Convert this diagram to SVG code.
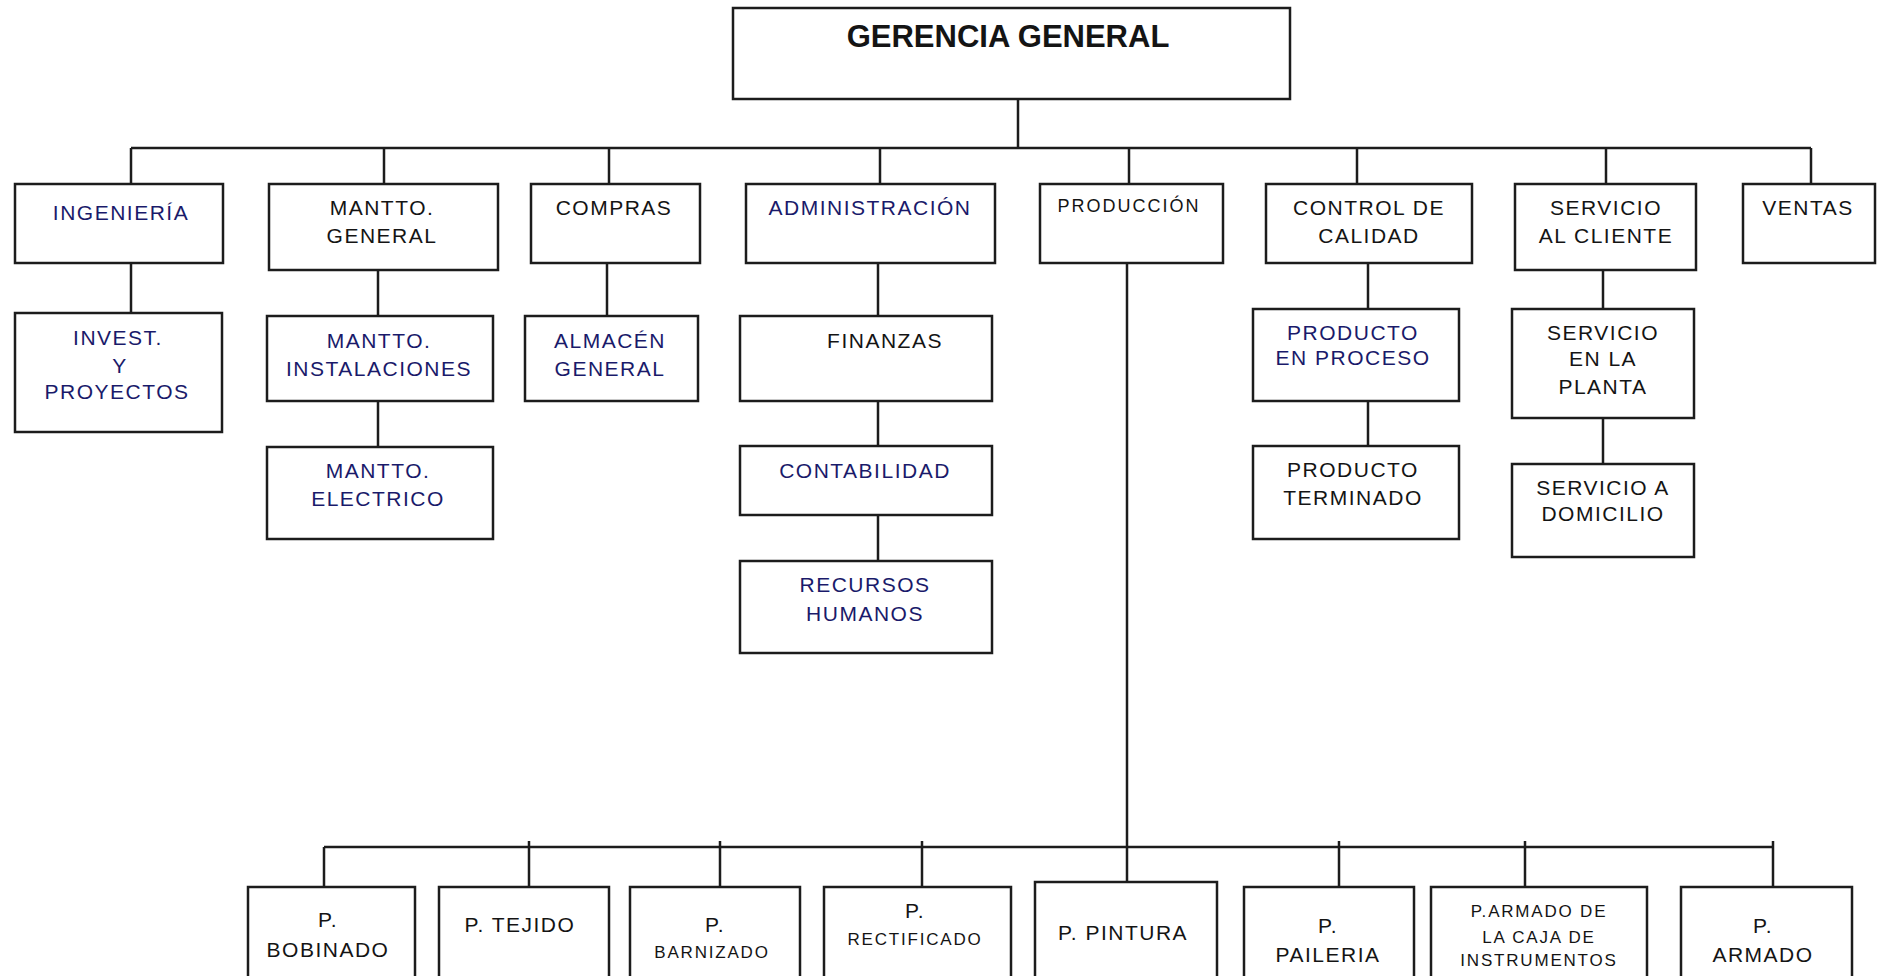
<svg xmlns="http://www.w3.org/2000/svg" width="1877" height="976" viewBox="0 0 1877 976">
  <style>
    .box { fill: #ffffff; stroke: #1c1c1c; stroke-width: 2.5; }
    .wire { fill: none; stroke: #1c1c1c; stroke-width: 2.5; }
    text { font-family: "Liberation Sans", Arial, sans-serif; text-anchor: middle; }
    .t { font-size: 21px; letter-spacing: 1.5px; fill: #141414; }
    .n { fill: #1a1a6a; }
    .p { font-size: 18px; letter-spacing: 2px; fill: #141414; }
    .s { font-size: 17px; letter-spacing: 1.8px; fill: #141414; }
    .title { font-size: 31px; font-weight: bold; fill: #141414; }
  </style>
  <rect width="1877" height="976" fill="#ffffff"/>

  <!-- connectors -->
  <g id="connectors" class="wire">
    <path d="M1018 99V148M131 148H1811"/>
    <path d="M131 148V184M384 148V184M609 148V184M880 148V184M1129 148V184M1357 148V184M1606 148V184M1811 148V184"/>
    <path d="M131 263V313M378 270V316M378 401V447M607 263V316M878 263V316M878 401V446M878 515V561"/>
    <path d="M1368 263V309M1368 401V446M1603 270V309M1603 418V464"/>
    <path d="M1127 263V882M324 847H1773"/>
    <path d="M324 847V887M529 841V887M720 841V887M922 841V887M1339 841V887M1525 841V887M1773 841V887"/>
  </g>

  <!-- top -->
  <g id="gerencia-general">
    <rect class="box" x="733" y="8" width="557" height="91"/>
    <text class="title" x="1008" y="47">GERENCIA GENERAL</text>
  </g>

  <!-- first level -->
  <g id="ingenieria">
    <rect class="box" x="15" y="184" width="208" height="79"/>
    <text class="t n" x="121" y="220">INGENIERÍA</text>
  </g>
  <g id="mantto-general">
    <rect class="box" x="269" y="184" width="229" height="86"/>
    <text class="t" x="382" y="215">MANTTO.</text>
    <text class="t" x="382" y="243">GENERAL</text>
  </g>
  <g id="compras">
    <rect class="box" x="531" y="184" width="169" height="79"/>
    <text class="t" x="614" y="215">COMPRAS</text>
  </g>
  <g id="administracion">
    <rect class="box" x="746" y="184" width="249" height="79"/>
    <text class="t n" x="870" y="215">ADMINISTRACIÓN</text>
  </g>
  <g id="produccion">
    <rect class="box" x="1040" y="184" width="183" height="79"/>
    <text class="p" x="1129" y="212">PRODUCCIÓN</text>
  </g>
  <g id="control-calidad">
    <rect class="box" x="1266" y="184" width="206" height="79"/>
    <text class="t" x="1369" y="215">CONTROL DE</text>
    <text class="t" x="1369" y="243">CALIDAD</text>
  </g>
  <g id="servicio-cliente">
    <rect class="box" x="1515" y="184" width="181" height="86"/>
    <text class="t" x="1606" y="215">SERVICIO</text>
    <text class="t" x="1606" y="243">AL CLIENTE</text>
  </g>
  <g id="ventas">
    <rect class="box" x="1743" y="184" width="132" height="79"/>
    <text class="t" x="1808" y="215">VENTAS</text>
  </g>

  <!-- second level -->
  <g id="invest-proyectos">
    <rect class="box" x="15" y="313" width="207" height="119"/>
    <text class="t n" x="118" y="345">INVEST.</text>
    <text class="t n" x="120" y="373">Y</text>
    <text class="t n" x="117" y="399">PROYECTOS</text>
  </g>
  <g id="mantto-instalaciones">
    <rect class="box" x="267" y="316" width="226" height="85"/>
    <text class="t n" x="379" y="348">MANTTO.</text>
    <text class="t n" x="379" y="376">INSTALACIONES</text>
  </g>
  <g id="mantto-electrico">
    <rect class="box" x="267" y="447" width="226" height="92"/>
    <text class="t n" x="378" y="478">MANTTO.</text>
    <text class="t n" x="378" y="506">ELECTRICO</text>
  </g>
  <g id="almacen-general">
    <rect class="box" x="525" y="316" width="173" height="85"/>
    <text class="t n" x="610" y="348">ALMACÉN</text>
    <text class="t n" x="610" y="376">GENERAL</text>
  </g>
  <g id="finanzas">
    <rect class="box" x="740" y="316" width="252" height="85"/>
    <text class="t" x="885" y="348">FINANZAS</text>
  </g>
  <g id="contabilidad">
    <rect class="box" x="740" y="446" width="252" height="69"/>
    <text class="t n" x="865" y="478">CONTABILIDAD</text>
  </g>
  <g id="recursos-humanos">
    <rect class="box" x="740" y="561" width="252" height="92"/>
    <text class="t n" x="865" y="592">RECURSOS</text>
    <text class="t n" x="865" y="621">HUMANOS</text>
  </g>
  <g id="producto-proceso">
    <rect class="box" x="1253" y="309" width="206" height="92"/>
    <text class="t n" x="1353" y="340">PRODUCTO</text>
    <text class="t n" x="1353" y="365">EN PROCESO</text>
  </g>
  <g id="producto-terminado">
    <rect class="box" x="1253" y="446" width="206" height="93"/>
    <text class="t" x="1353" y="477">PRODUCTO</text>
    <text class="t" x="1353" y="505">TERMINADO</text>
  </g>
  <g id="servicio-planta">
    <rect class="box" x="1512" y="309" width="182" height="109"/>
    <text class="t" x="1603" y="340">SERVICIO</text>
    <text class="t" x="1603" y="366">EN LA</text>
    <text class="t" x="1603" y="394">PLANTA</text>
  </g>
  <g id="servicio-domicilio">
    <rect class="box" x="1512" y="464" width="182" height="93"/>
    <text class="t" x="1603" y="495">SERVICIO A</text>
    <text class="t" x="1603" y="521">DOMICILIO</text>
  </g>

  <!-- production areas -->
  <g id="p-bobinado">
    <rect class="box" x="248" y="887" width="167" height="110"/>
    <text class="t" x="328" y="927">P.</text>
    <text class="t" x="328" y="957">BOBINADO</text>
  </g>
  <g id="p-tejido">
    <rect class="box" x="439" y="887" width="170" height="110"/>
    <text class="t" x="520" y="932">P. TEJIDO</text>
  </g>
  <g id="p-barnizado">
    <rect class="box" x="630" y="887" width="170" height="110"/>
    <text class="t" x="715" y="932">P.</text>
    <text class="s" x="712" y="958">BARNIZADO</text>
  </g>
  <g id="p-rectificado">
    <rect class="box" x="824" y="887" width="187" height="110"/>
    <text class="t" x="915" y="918">P.</text>
    <text class="s" x="915" y="945">RECTIFICADO</text>
  </g>
  <g id="p-pintura">
    <rect class="box" x="1035" y="882" width="182" height="115"/>
    <text class="t" x="1123" y="940">P. PINTURA</text>
  </g>
  <g id="p-paileria">
    <rect class="box" x="1244" y="887" width="170" height="110"/>
    <text class="t" x="1328" y="933">P.</text>
    <text class="t" x="1328" y="962">PAILERIA</text>
  </g>
  <g id="p-armado-caja">
    <rect class="box" x="1431" y="887" width="216" height="110"/>
    <text class="s" x="1539" y="917">P.ARMADO DE</text>
    <text class="s" x="1539" y="943">LA CAJA DE</text>
    <text class="s" x="1539" y="966">INSTRUMENTOS</text>
  </g>
  <g id="p-armado">
    <rect class="box" x="1681" y="887" width="171" height="110"/>
    <text class="t" x="1763" y="933">P.</text>
    <text class="t" x="1763" y="962">ARMADO</text>
  </g>
</svg>
